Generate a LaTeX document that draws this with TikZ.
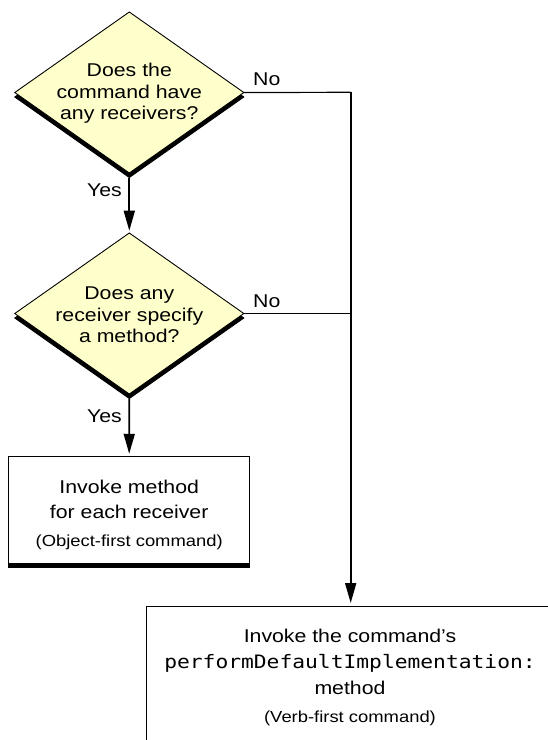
\documentclass[tikz,border=0pt]{standalone}
\usepackage{fontspec}
\setmainfont{Liberation Sans}[FakeStretch=1.15]
\setmonofont{DejaVu Sans Mono}[FakeStretch=1.15]
\usetikzlibrary{shapes.geometric,arrows.meta}
\definecolor{qfill}{RGB}{255,255,204}
\tikzset{
  decision/.style={diamond, draw=black, line width=0.9pt, fill=qfill,
    minimum width=229pt, minimum height=161pt, inner sep=0pt, outer sep=0pt},
  decshadow/.style={diamond, draw=black, line width=0.9pt, fill=black,
    minimum width=229pt, minimum height=161pt, inner sep=0pt, outer sep=0pt},
  action/.style={rectangle, draw=black, line width=0.9pt, fill=white,
    inner sep=0pt, outer sep=0pt},
  actshadow/.style={rectangle, draw=black, line width=0.9pt, fill=black,
    inner sep=0pt, outer sep=0pt},
  qtext/.style={align=center, font=\fontsize{18.5}{21.7}\selectfont, inner sep=0pt},
  btext/.style={align=center, font=\fontsize{18.5}{24.5}\selectfont, inner sep=0pt},
  btexttwo/.style={align=center, font=\fontsize{18.5}{26}\selectfont, inner sep=0pt},
  ctext/.style={align=center, font=\fontsize{16}{19}\selectfont, inner sep=0pt},
  lbl/.style={font=\fontsize{18.5}{22}\selectfont, inner sep=0pt},
  flow/.style={line width=1.8pt, -{Triangle[length=20pt,width=11pt]}},
  noline/.style={line width=1.2pt},
}
\begin{document}
\begin{tikzpicture}[x=1pt,y=-1pt]
\useasboundingbox (0,0) rectangle (548,740);
\clip (0,0) rectangle (548,740);

% decisions (shadow first)
\node[decshadow] (q1s) at (129.3,97) {};
\node[decision] (q1) at (129.3,92.5) {};
\node[decshadow] (q2s) at (129.3,318) {};
\node[decision] (q2) at (129.3,313.5) {};
\node[qtext] (q1t) at (129.3,93.5) {Does the\\command have\\any receivers?};
\node[qtext] (q2t) at (129.3,315) {Does any\\receiver specify\\a method?};

% actions
\node[actshadow, minimum width=241pt, minimum height=106.3pt] (b1s) at (129.2,513.9) {};
\node[action, minimum width=241pt, minimum height=106.3pt] (b1) at (129.2,509.9) {};
\node[btext] (b1t) at (129.2,499.2) {Invoke method\\for each receiver};
\node[ctext] (b1c) at (129.2,542) {(Object-first command)};

\node[action, minimum width=408pt, minimum height=200pt] (b2) at (350.7,706.5) {};
\node[btexttwo] (b2t) at (350,662.2) {Invoke the command’s\\\texttt{performDefaultImplementation:}\\method};
\node[ctext] (b2c) at (350,718.8) {(Verb-first command)};

% connectors
\coordinate (j1) at (350.7,92.3);
\coordinate (j2) at (q2.east -| j1);
\draw[flow, shorten >=2.3pt] (q1s.south) -- (q2.north);
\draw[flow, shorten >=3pt] (q2s.south) -- (b1.north);
\draw[noline] (q1.east) -- (j1);
\draw[noline] (q2.east) -- (j2);
\draw[flow, shorten <=-0.6pt, shorten >=3.5pt] (j1) -- (b2.north);

% labels
\node[lbl, anchor=east] (y1) at (122,190) {Yes};
\node[lbl, anchor=east] (y2) at (122,416) {Yes};
\node[lbl, anchor=west] (n1) at (253,79) {No};
\node[lbl, anchor=west] (n2) at (253,301.7) {No};
\end{tikzpicture}
\end{document}
